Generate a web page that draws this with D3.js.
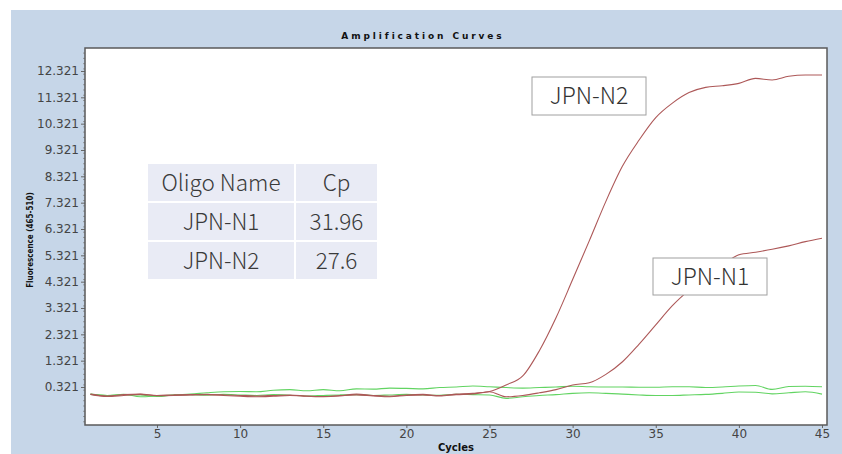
<!DOCTYPE html>
<html>
<head>
<meta charset="utf-8">
<script src="https://cdn.jsdelivr.net/npm/d3@7"></script>
<style>
  html, body { margin: 0; padding: 0; background: #fff; }
  svg { display: block; }
  .tick text { font-family: "DejaVu Sans", Verdana, sans-serif; font-size: 12px; fill: #444; }
</style>
</head>
<body>
<div id="chart"></div>
<script>
// Cycles 1..45
const cycles = d3.range(1, 46);

const jpnN2 = [0.05, -0.02, 0.03, 0.05, 0.0, 0.02, 0.03, 0.03, 0.02, 0.0,
  -0.02, 0.0, 0.02, -0.03, -0.05, -0.02, 0.05, 0.0, -0.03, 0.02,
  0.04, 0.0, 0.05, 0.08, 0.15, 0.4, 0.74, 1.7, 2.95, 4.4,
  5.87, 7.37, 8.71, 9.7, 10.55, 11.1, 11.5, 11.7, 11.76, 11.85,
  12.04, 11.98, 12.12, 12.17, 12.17];

const jpnN1 = [0.04, -0.04, 0.0, 0.04, -0.01, 0.0, 0.02, 0.04, 0.0, -0.03,
  -0.05, -0.03, 0.0, -0.02, -0.04, 0.0, 0.02, -0.02, -0.05, 0.0,
  0.02, -0.02, 0.03, 0.06, 0.14, -0.05, 0.0, 0.1, 0.22, 0.4,
  0.48, 0.8, 1.28, 1.95, 2.68, 3.41, 4.0, 4.5, 4.95, 5.34,
  5.44, 5.55, 5.68, 5.84, 5.97];

const ntcUpper = [0.05, 0.0, 0.03, 0.02, -0.04, 0.02, 0.05, 0.1, 0.14, 0.15,
  0.14, 0.2, 0.22, 0.18, 0.22, 0.18, 0.25, 0.24, 0.28, 0.27,
  0.25, 0.3, 0.32, 0.36, 0.33, 0.3, 0.28, 0.3, 0.32, 0.35,
  0.33, 0.32, 0.32, 0.31, 0.31, 0.33, 0.33, 0.3, 0.32, 0.36,
  0.38, 0.23, 0.34, 0.35, 0.33];

const ntcLower = [0.04, 0.0, 0.04, -0.05, -0.02, 0.02, 0.03, 0.01, 0.04, 0.02,
  0.0, 0.03, 0.01, -0.02, 0.0, 0.02, 0.03, 0.0, 0.02, 0.04,
  0.02, 0.01, 0.04, 0.03, 0.02, -0.11, -0.05, 0.0, 0.03, 0.08,
  0.1, 0.08, 0.05, 0.02, 0.0, 0.0, 0.02, 0.04, 0.08, 0.13,
  0.12, 0.06, 0.1, 0.14, 0.05];

const xTicks = [5, 10, 15, 20, 25, 30, 35, 40, 45];
const yTicks = [0.321, 1.321, 2.321, 3.321, 4.321, 5.321, 6.321, 7.321, 8.321, 9.321, 10.321, 11.321, 12.321];

const tableRows = [
  ["Oligo Name", "Cp"],
  ["JPN-N1", "31.96"],
  ["JPN-N2", "27.6"]
];

const width = 842, height = 454;
const plot = { left: 85, right: 827, top: 48, bottom: 425 };

const svg = d3.select('#chart').append('svg')
  .attr('width', width)
  .attr('height', height);

// blue panel
svg.append('rect')
  .attr('x', 11).attr('y', 10)
  .attr('width', width - 11).attr('height', height - 10)
  .attr('fill', '#c6d6e8');

svg.append('text')
  .attr('x', 423).attr('y', 39)
  .attr('text-anchor', 'middle')
  .style('font-family', '"DejaVu Sans", Verdana, sans-serif')
  .style('font-size', '9px')
  .style('font-weight', 'bold')
  .style('letter-spacing', '2.9px')
  .attr('fill', '#111')
  .text('Amplification Curves');

// plot area
svg.append('rect')
  .attr('x', plot.left).attr('y', plot.top)
  .attr('width', plot.right - plot.left).attr('height', plot.bottom - plot.top)
  .attr('fill', '#fff');

const xScale = d3.scaleLinear().domain([0.67, 45.3]).range([plot.left, plot.right]);
const yScale = d3.scaleLinear().domain([-1.122, 13.194]).range([plot.bottom, plot.top]);

// minor ticks on y axis
const minor = d3.range(-1.0, 13.19, 0.2);
svg.append('g')
  .selectAll('line')
  .data(minor)
  .join('line')
  .attr('x1', plot.left - 2).attr('x2', plot.left)
  .attr('y1', d => yScale(d)).attr('y2', d => yScale(d))
  .attr('stroke', '#888').attr('stroke-width', 0.8);

const yAxis = d3.axisLeft(yScale)
  .tickValues(yTicks)
  .tickFormat(d3.format('.3f'))
  .tickSize(4)
  .tickSizeOuter(0)
  .tickPadding(2);

const yAxisGroup = svg.append('g')
  .attr('transform', `translate(${plot.left},0)`)
  .call(yAxis);
yAxisGroup.select('.domain').remove();
yAxisGroup.selectAll('.tick line').attr('stroke', '#666');

const xAxis = d3.axisBottom(xScale)
  .tickValues(xTicks)
  .tickSize(3)
  .tickSizeOuter(0)
  .tickPadding(1);

const xAxisGroup = svg.append('g')
  .attr('transform', `translate(0,${plot.bottom})`)
  .call(xAxis);
xAxisGroup.select('.domain').remove();
xAxisGroup.selectAll('.tick line').attr('stroke', '#666');

// axis titles
svg.append('text')
  .attr('x', 456).attr('y', 451)
  .attr('text-anchor', 'middle')
  .style('font-family', '"DejaVu Sans", Verdana, sans-serif')
  .style('font-size', '10px')
  .style('font-weight', 'bold')
  .attr('fill', '#111')
  .text('Cycles');

svg.append('text')
  .attr('transform', 'translate(33,240) rotate(-90)')
  .attr('text-anchor', 'middle')
  .style('font-family', '"DejaVu Sans Condensed", "DejaVu Sans", sans-serif')
  .style('font-size', '8px')
  .style('font-weight', 'bold')
  .attr('fill', '#111')
  .text('Fluorescence (465-510)');

// curves
const line = d3.line()
  .x((d, i) => xScale(cycles[i]))
  .y(d => yScale(d))
  .curve(d3.curveMonotoneX);

svg.append('clipPath').attr('id', 'clip')
  .append('rect')
  .attr('x', plot.left).attr('y', plot.top)
  .attr('width', plot.right - plot.left).attr('height', plot.bottom - plot.top);

const curves = svg.append('g').attr('clip-path', 'url(#clip)');
const series = [
  { values: ntcUpper, color: '#62d462' },
  { values: ntcLower, color: '#62d462' },
  { values: jpnN1, color: '#ad5858' },
  { values: jpnN2, color: '#ad5858' }
];
curves.selectAll('path')
  .data(series)
  .join('path')
  .attr('d', d => line(d.values))
  .attr('fill', 'none')
  .attr('stroke', d => d.color)
  .attr('stroke-width', 1.1);

// plot frame
svg.append('rect')
  .attr('x', plot.left).attr('y', plot.top)
  .attr('width', plot.right - plot.left).attr('height', plot.bottom - plot.top)
  .attr('fill', 'none')
  .attr('stroke', '#5a5a5a')
  .attr('stroke-width', 1.5);

// table
const table = { x: 147, y: 163, colW: [148, 83], rowH: 39 };
const tableG = svg.append('g');
tableRows.forEach((row, r) => {
  let cx = table.x;
  row.forEach((cell, c) => {
    tableG.append('rect')
      .attr('x', cx).attr('y', table.y + r * table.rowH)
      .attr('width', table.colW[c]).attr('height', table.rowH)
      .attr('fill', '#e9ebf5')
      .attr('stroke', '#fff')
      .attr('stroke-width', 2);
    tableG.append('text')
      .attr('x', cx + table.colW[c] / 2)
      .attr('y', table.y + r * table.rowH + table.rowH / 2)
      .attr('dy', '0.36em')
      .attr('text-anchor', 'middle')
      .style('font-family', '"Noto Sans CJK JP", "Noto Sans", sans-serif')
      .style('font-size', '22.5px')
      .style('font-weight', 300)
      .attr('fill', '#3a3a3a')
      .text(cell);
    cx += table.colW[c];
  });
});

// curve labels
const labels = [
  { text: 'JPN-N2', x: 532, y: 77, w: 114, h: 38 },
  { text: 'JPN-N1', x: 653, y: 258, w: 114, h: 37 }
];
const labelG = svg.append('g').selectAll('g')
  .data(labels)
  .join('g');
labelG.append('rect')
  .attr('x', d => d.x).attr('y', d => d.y)
  .attr('width', d => d.w).attr('height', d => d.h)
  .attr('fill', '#fff')
  .attr('stroke', '#a0a0a0')
  .attr('stroke-width', 1);
labelG.append('text')
  .attr('x', d => d.x + d.w / 2)
  .attr('y', d => d.y + d.h / 2)
  .attr('dy', '0.36em')
  .attr('text-anchor', 'middle')
  .style('font-family', '"Noto Sans CJK JP", "Noto Sans", sans-serif')
  .style('font-size', '23px')
  .style('font-weight', 300)
  .attr('fill', '#333')
  .text(d => d.text);
</script>
</body>
</html>
